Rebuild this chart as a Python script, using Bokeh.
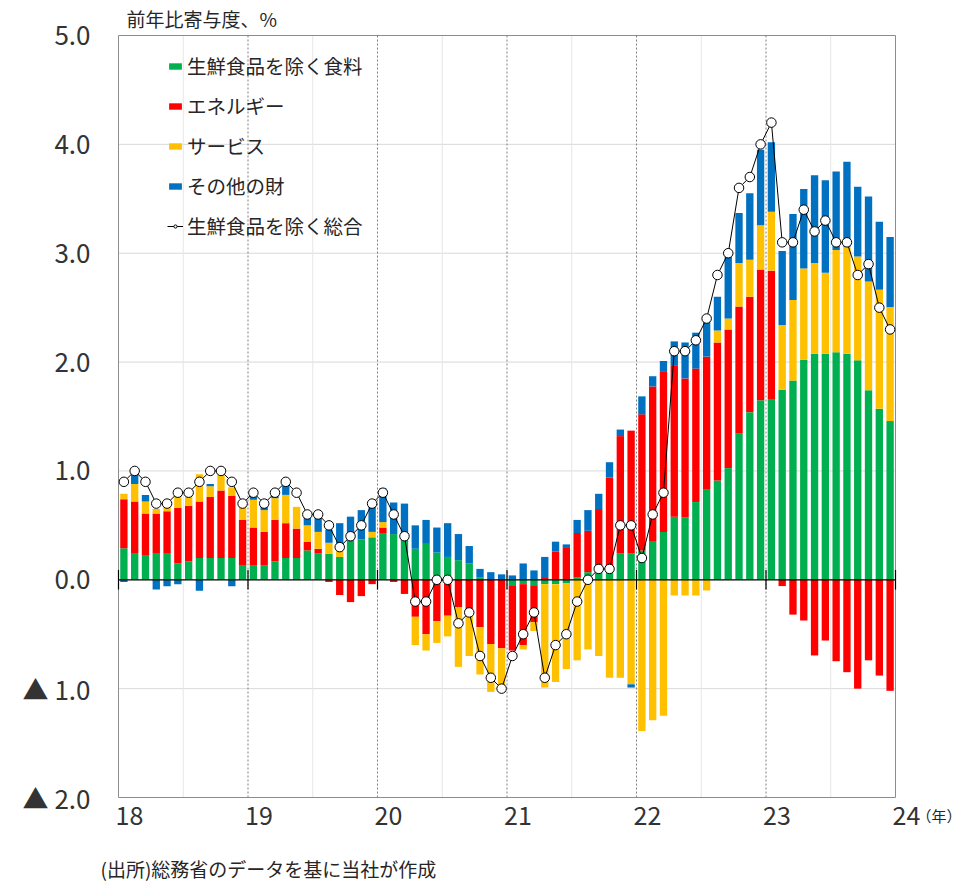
from bokeh.plotting import figure
from bokeh.models import ColumnDataSource, Legend, LegendItem, Range1d
from bokeh.embed import file_html
from bokeh.resources import INLINE
from bokeh.core.properties import value

# ---------------- data (contribution to y/y change, %pt) ----------------
years = [2018, 2019, 2020, 2021, 2022, 2023]
months = list(range(1, 13))

food_ex_fresh = [
    0.29, 0.24, 0.22, 0.24, 0.24, 0.15, 0.17, 0.20, 0.20, 0.20, 0.20, 0.13,
    0.13, 0.13, 0.17, 0.20, 0.20, 0.27, 0.245, 0.24, 0.21, 0.36, 0.37, 0.39,
    0.43, 0.42, 0.42, 0.285, 0.33, 0.25, 0.21, 0.18, 0.15, 0.02, 0.0, 0.0,
    -0.05, -0.04, -0.05, -0.04, -0.04, -0.03, 0.02, 0.07, 0.09, 0.09, 0.245, 0.245,
    0.27, 0.35, 0.44, 0.58, 0.576, 0.714, 0.827, 0.913, 1.026, 1.342, 1.54, 1.65,
    1.66, 1.745, 1.83, 2.02, 2.077, 2.077, 2.09, 2.077, 2.016, 1.74, 1.572, 1.458]

energy = [
    0.45, 0.48, 0.39, 0.37, 0.39, 0.51, 0.51, 0.52, 0.56, 0.62, 0.57, 0.42,
    0.35, 0.31, 0.38, 0.32, 0.27, 0.08, 0.04, -0.02, -0.14, -0.205, -0.15, -0.04,
    0.05, -0.02, -0.13, -0.34, -0.50, -0.38, -0.33, -0.25, -0.27, -0.435, -0.59, -0.63,
    -0.60, -0.56, -0.34, 0.025, 0.26, 0.30, 0.41, 0.38, 0.56, 0.85, 1.075, 1.125,
    1.25, 1.426, 1.47, 1.39, 1.274, 1.226, 1.223, 1.267, 1.274, 1.168, 1.06, 1.20,
    1.18, -0.058, -0.32, -0.374, -0.695, -0.558, -0.748, -0.849, -1.00, -0.74, -0.88, -1.02]

services = [
    0.05, 0.16, 0.11, 0.04, 0.04, 0.11, 0.09, 0.25, 0.10, 0.15, 0.08, 0.13,
    0.255, 0.20, 0.20, 0.26, 0.20, 0.15, 0.155, 0.10, 0.09, 0.0, 0.0, 0.05,
    0.05, 0.0, 0.0, -0.26, -0.15, -0.20, -0.19, -0.55, -0.43, -0.435, -0.44, -0.40,
    0.0, -0.04, -0.08, -0.95, -0.90, -0.79, -0.74, -0.64, -0.70, -0.90, -0.90, -0.96,
    -1.39, -1.29, -1.25, -0.144, -0.144, -0.144, -0.098, 0.11, 0.10, 0.40, 0.34, 0.407,
    0.54, 0.595, 0.74, 0.84, 0.833, 0.743, 0.94, 0.983, 0.954, 1.00, 1.093, 1.047]

other_goods = [
    -0.02, 0.09, 0.06, -0.09, -0.06, -0.04, 0.0, -0.10, 0.02, 0.0, -0.06, 0.02,
    0.03, 0.03, 0.025, 0.09, 0.0, 0.10, 0.14, 0.12, 0.22, 0.22, 0.27, 0.29,
    0.31, 0.29, 0.28, 0.215, 0.22, 0.23, 0.31, 0.24, 0.16, 0.08, 0.07, 0.05,
    0.04, 0.15, 0.086, 0.185, 0.09, 0.025, 0.12, 0.19, 0.14, 0.14, 0.06, -0.03,
    0.165, 0.094, 0.10, 0.22, 0.33, 0.33, 0.36, 0.31, 0.57, 0.46, 0.61, 0.693,
    0.64, 0.68, 0.79, 0.73, 0.806, 0.85, 0.72, 0.78, 0.64, 0.78, 0.625, 0.645]

core_cpi = [
    0.9, 1.0, 0.9, 0.7, 0.7, 0.8, 0.8, 0.9, 1.0, 1.0, 0.9, 0.7,
    0.8, 0.7, 0.8, 0.9, 0.8, 0.6, 0.6, 0.5, 0.3, 0.4, 0.5, 0.7,
    0.8, 0.6, 0.4, -0.2, -0.2, 0.0, 0.0, -0.4, -0.3, -0.7, -0.9, -1.0,
    -0.7, -0.5, -0.3, -0.9, -0.6, -0.5, -0.2, 0.0, 0.1, 0.1, 0.5, 0.5,
    0.2, 0.6, 0.8, 2.1, 2.1, 2.2, 2.4, 2.8, 3.0, 3.6, 3.7, 4.0,
    4.2, 3.1, 3.1, 3.4, 3.2, 3.3, 3.1, 3.1, 2.8, 2.9, 2.5, 2.3]

series_names = ["生鮮食品を除く食料", "エネルギー", "サービス", "その他の財"]
series_colors = ["#00B050", "#FF0000", "#FFC000", "#0070C0"]
line_name = "生鮮食品を除く総合"

y_ticks = [-2, -1, 0, 1, 2, 3, 4, 5]
y_labels = ["▲ 2.0", "▲ 1.0", "0.0", "1.0", "2.0", "3.0", "4.0", "5.0"]
x_year_ticks = [2018, 2019, 2020, 2021, 2022, 2023, 2024]
x_year_labels = ["18", "19", "20", "21", "22", "23", "24"]
y_title = "前年比寄与度、%"
x_unit = "（年）"
source_note = "(出所)総務省のデータを基に当社が作成"

# ---------------- layout constants (pixels) ----------------
W, H = 961, 885
FL, FR, FT, FB = 118, 895, 35, 797          # plot box edges in canvas px
X0, X1, Y0, Y1 = 2018, 2024, -2, 5           # data at plot box edges
sx = (FR - FL) / (X1 - X0)
sy = (FB - FT) / (Y1 - Y0)
xr = Range1d(X0 - FL / sx, X1 + (W - FR) / sx)
yr = Range1d(Y0 - (H - FB) / sy, Y1 + FT / sy)

# ---------------- stacked positions ----------------
x = [yr_ + (m - 0.5) / 12.0 for yr_ in years for m in months]
all_series = [food_ex_fresh, energy, services, other_goods]
n = len(x)
pos = [0.0] * n
neg = [0.0] * n
stack = []
for s in all_series:
    bottoms, tops = [], []
    for i, v in enumerate(s):
        if v >= 0:
            bottoms.append(pos[i]); tops.append(pos[i] + v); pos[i] += v
        else:
            tops.append(neg[i]); bottoms.append(neg[i] + v); neg[i] += v
    stack.append((bottoms, tops))

FONT = value("Noto Sans CJK JP")
TXT = "#262626"

p = figure(width=W, height=H, output_backend="svg", toolbar_location=None,
           x_range=xr, y_range=yr, x_axis_location=None, y_axis_location=None,
           min_border=0, min_border_left=0, min_border_right=0,
           min_border_top=0, min_border_bottom=0)
p.background_fill_color = "white"
p.border_fill_color = "white"
p.outline_line_color = None
p.xgrid.visible = False
p.ygrid.visible = False

# grid lines
hgrid = [-1, 1, 2, 3, 4]
p.segment(x0=[X0] * len(hgrid), x1=[X1] * len(hgrid), y0=hgrid, y1=hgrid,
          line_color="#d9d9d9", line_width=1)
half = [yv + 0.5 for yv in years]
p.segment(x0=half, x1=half, y0=[Y0] * len(half), y1=[Y1] * len(half),
          line_color="#e6e6e6", line_width=1)
ydash = x_year_ticks[1:-1]
p.segment(x0=ydash, x1=ydash, y0=[Y0] * len(ydash), y1=[Y1] * len(ydash),
          line_color="#7f7f7f", line_width=1, line_dash="2 2")

# bars
bar_w = 0.68 / 12.0
renderers = []
for (b, t), col in zip(stack, series_colors):
    src = ColumnDataSource(dict(x=x, bottom=b, top=t))
    r = p.vbar(x="x", width=bar_w, bottom="bottom", top="top", source=src,
               fill_color=col, line_color=None)
    renderers.append(r)

# plot box
p.quad(left=[X0], right=[X1], bottom=[Y0], top=[Y1], fill_color=None,
       line_color="#8c8c8c", line_width=1)

# zero line with crossing ticks
p.segment(x0=[X0], x1=[X1], y0=[0], y1=[0], line_color="black", line_width=1.2)
p.segment(x0=x_year_ticks, y0=[-0.09] * 7, x1=x_year_ticks, y1=[0.09] * 7,
          line_color="black", line_width=1.2)

# total line
lsrc = ColumnDataSource(dict(x=x, y=core_cpi))
lr = p.line("x", "y", source=lsrc, line_color="black", line_width=1)
sr = p.scatter("x", "y", source=lsrc, size=9.5, fill_color="white", line_color="black",
               line_width=1)

# tick labels
p.text(x=[X0] * len(y_ticks), y=y_ticks, text=y_labels, x_offset=-28,
       text_align="right", text_baseline="middle", text_font=FONT,
       text_font_size="26px", text_color="#333333")
p.text(x=x_year_ticks, y=[Y0] * 7, text=x_year_labels, x_offset=11, y_offset=18,
       text_align="center", text_baseline="middle", text_font=FONT,
       text_font_size="25px", text_color="#333333")
p.text(x=[X1], y=[Y0], text=[x_unit], x_offset=21, y_offset=18,
       text_align="left", text_baseline="middle", text_font=FONT,
       text_font_size="15px", text_color=TXT)
p.text(x=[X0], y=[Y1], text=[y_title], x_offset=8, y_offset=-17,
       text_align="left", text_baseline="middle", text_font=FONT,
       text_font_size="19px", text_color=TXT)
p.text(x=[X0], y=[Y0], text=[source_note], x_offset=-18, y_offset=71,
       text_align="left", text_baseline="middle", text_font=FONT,
       text_font_size="19px", text_color=TXT)

# legend
items = [LegendItem(label=nm, renderers=[r]) for nm, r in zip(series_names, renderers)]
items.append(LegendItem(label=line_name, renderers=[lr, sr]))
legend = Legend(items=items, location=(167, 645), orientation="vertical",
                padding=0, margin=0, spacing=11, label_height=20,
                glyph_width=16, glyph_height=8, label_standoff=4,
                label_text_font="Noto Sans CJK JP", label_text_font_size="19.5px",
                label_text_color=TXT,
                border_line_color=None, background_fill_alpha=0)
p.add_layout(legend)

open("out.html", "w").write(file_html(p, INLINE))
